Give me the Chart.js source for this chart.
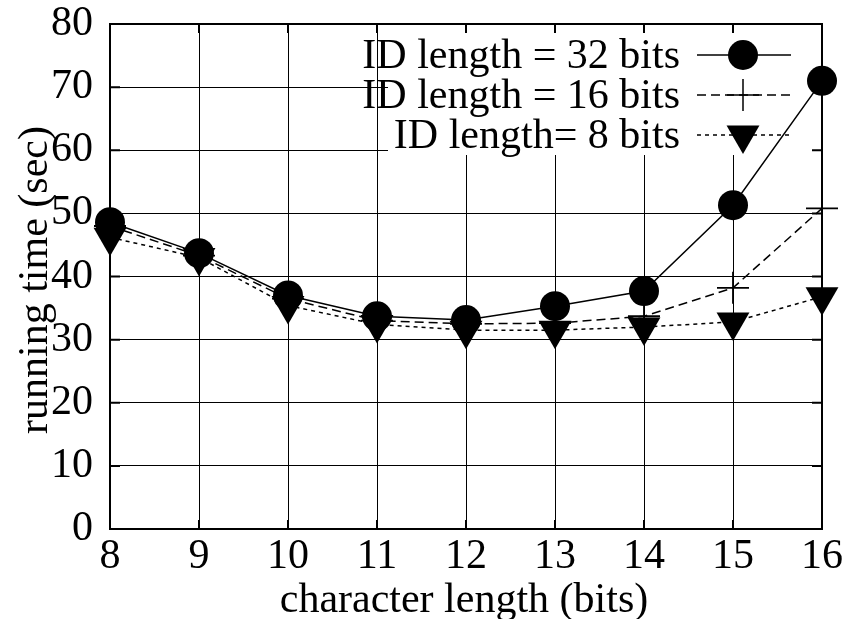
<!DOCTYPE html>
<html>
<head>
<meta charset="utf-8">
<script src="https://cdn.jsdelivr.net/npm/chart.js@4.4.0/dist/chart.umd.min.js"></script>
<style>
  html, body { margin: 0; padding: 0; background: #fff; }
  #wrap { width: 855px; height: 619px; }
</style>
</head>
<body>
<div id="wrap"><canvas id="chart" width="855" height="619"></canvas></div>
<script>
// character length (bits)
const charLengths = [8, 9, 10, 11, 12, 13, 14, 15, 16];
// running time (sec) for each ID length
const id32 = [48.6, 43.7, 37.0, 33.7, 33.1, 35.3, 37.7, 51.3, 71.0];
const id16 = [48.0, 43.3, 36.5, 33.0, 32.5, 32.6, 33.7, 38.2, 50.8];
const id8 = [46.2, 43.0, 35.4, 32.4, 31.5, 31.5, 32.0, 32.8, 36.8];
const seriesLabels = ['ID length = 32 bits', 'ID length = 16 bits', 'ID length= 8 bits'];
const yTicks = [0, 10, 20, 30, 40, 50, 60, 70, 80];

const FONT = '"Liberation Serif", "Times New Roman", serif';
const SIZE = 42;

function points(values) {
  return charLengths.map((x, i) => ({ x: x, y: values[i] }));
}

// gnuplot style frame: opaque key box, inward ticks, border
const framePlugin = {
  id: 'frame',
  beforeDatasetsDraw(chart) {
    const { ctx, chartArea: a, scales } = chart;
    ctx.save();
    // key area clears the grid
    ctx.fillStyle = '#fff';
    ctx.fillRect(388, a.top + 9, a.right - 388, 155 - a.top - 9);
    // inward ticks
    ctx.strokeStyle = '#000';
    ctx.lineWidth = 2;
    ctx.beginPath();
    charLengths.forEach(v => {
      const x = scales.x.getPixelForValue(v);
      ctx.moveTo(x, a.bottom); ctx.lineTo(x, a.bottom - 9);
      ctx.moveTo(x, a.top); ctx.lineTo(x, a.top + 9);
    });
    yTicks.forEach(v => {
      const y = scales.y.getPixelForValue(v);
      ctx.moveTo(a.left, y); ctx.lineTo(a.left + 10, y);
      ctx.moveTo(a.right, y); ctx.lineTo(a.right - 10, y);
    });
    ctx.stroke();
    ctx.strokeRect(a.left, a.top, a.right - a.left, a.bottom - a.top);
    ctx.restore();
  },
  afterDraw(chart) {
    const { ctx } = chart;
    ctx.save();
    ctx.fillStyle = '#000';
    ctx.strokeStyle = '#000';
    ctx.font = SIZE + 'px ' + FONT;
    // axis titles
    ctx.textAlign = 'center';
    ctx.textBaseline = 'alphabetic';
    ctx.fillText('character length (bits)', 464, 612);
    ctx.save();
    ctx.translate(47, 280);
    ctx.rotate(-Math.PI / 2);
    ctx.fillText('running time (sec)', 0, 0);
    ctx.restore();

    // key
    const baselines = [68, 108, 148];
    chart.data.datasets.forEach((ds, i) => {
      const base = baselines[i];
      const y = base - 13;
      ctx.fillStyle = '#000';
      ctx.textAlign = 'right';
      ctx.textBaseline = 'alphabetic';
      ctx.fillText(ds.label, 680, base);
      ctx.lineWidth = ds.borderWidth;
      ctx.setLineDash(ds.borderDash || []);
      ctx.beginPath();
      ctx.moveTo(697, y);
      ctx.lineTo(791, y);
      ctx.stroke();
      ctx.setLineDash([]);
      Chart.helpers.drawPoint(ctx, {
        pointStyle: ds.pointStyle,
        rotation: ds.pointRotation || 0,
        radius: ds.pointRadius,
        borderWidth: ds.pointBorderWidth
      }, 743, y);
    });
    ctx.restore();
  }
};

new Chart(document.getElementById('chart'), {
  type: 'line',
  data: {
    datasets: [
      {
        label: seriesLabels[0],
        data: points(id32),
        clip: false,
        borderColor: '#000',
        backgroundColor: '#000',
        borderWidth: 1.5,
        pointStyle: 'circle',
        pointRadius: 15,
        pointBorderWidth: 0,
        pointBackgroundColor: '#000'
      },
      {
        label: seriesLabels[1],
        data: points(id16),
        clip: false,
        borderColor: '#000',
        backgroundColor: '#000',
        borderWidth: 1.5,
        borderDash: [9, 5],
        pointStyle: 'cross',
        pointRadius: 16,
        pointBorderWidth: 1.8
      },
      {
        label: seriesLabels[2],
        data: points(id8),
        clip: false,
        borderColor: '#000',
        backgroundColor: '#000',
        borderWidth: 1.5,
        borderDash: [4, 4],
        pointStyle: 'triangle',
        pointRotation: 180,
        pointRadius: 19,
        pointBorderWidth: 0,
        pointBackgroundColor: '#000'
      }
    ]
  },
  options: {
    responsive: false,
    animation: false,
    events: [],
    layout: { padding: { top: 24, right: 33, left: 0, bottom: 0 } },
    plugins: {
      legend: { display: false },
      tooltip: { enabled: false }
    },
    scales: {
      x: {
        type: 'linear',
        min: 8,
        max: 16,
        afterFit(scale) {
          scale.height = 90;
          scale.paddingLeft = 0;
          scale.paddingRight = 0;
        },
        ticks: {
          stepSize: 1,
          color: '#000',
          padding: 3,
          font: { family: FONT, size: SIZE }
        },
        grid: { color: '#000', lineWidth: 1, drawTicks: false },
        border: { display: false }
      },
      y: {
        min: 0,
        max: 80,
        afterFit(scale) {
          scale.width = 110;
          scale.paddingTop = 0;
          scale.paddingBottom = 0;
        },
        ticks: {
          stepSize: 10,
          color: '#000',
          padding: 17,
          font: { family: FONT, size: SIZE }
        },
        grid: { color: '#000', lineWidth: 1, drawTicks: false },
        border: { display: false }
      }
    }
  },
  plugins: [framePlugin]
});
</script>
</body>
</html>
